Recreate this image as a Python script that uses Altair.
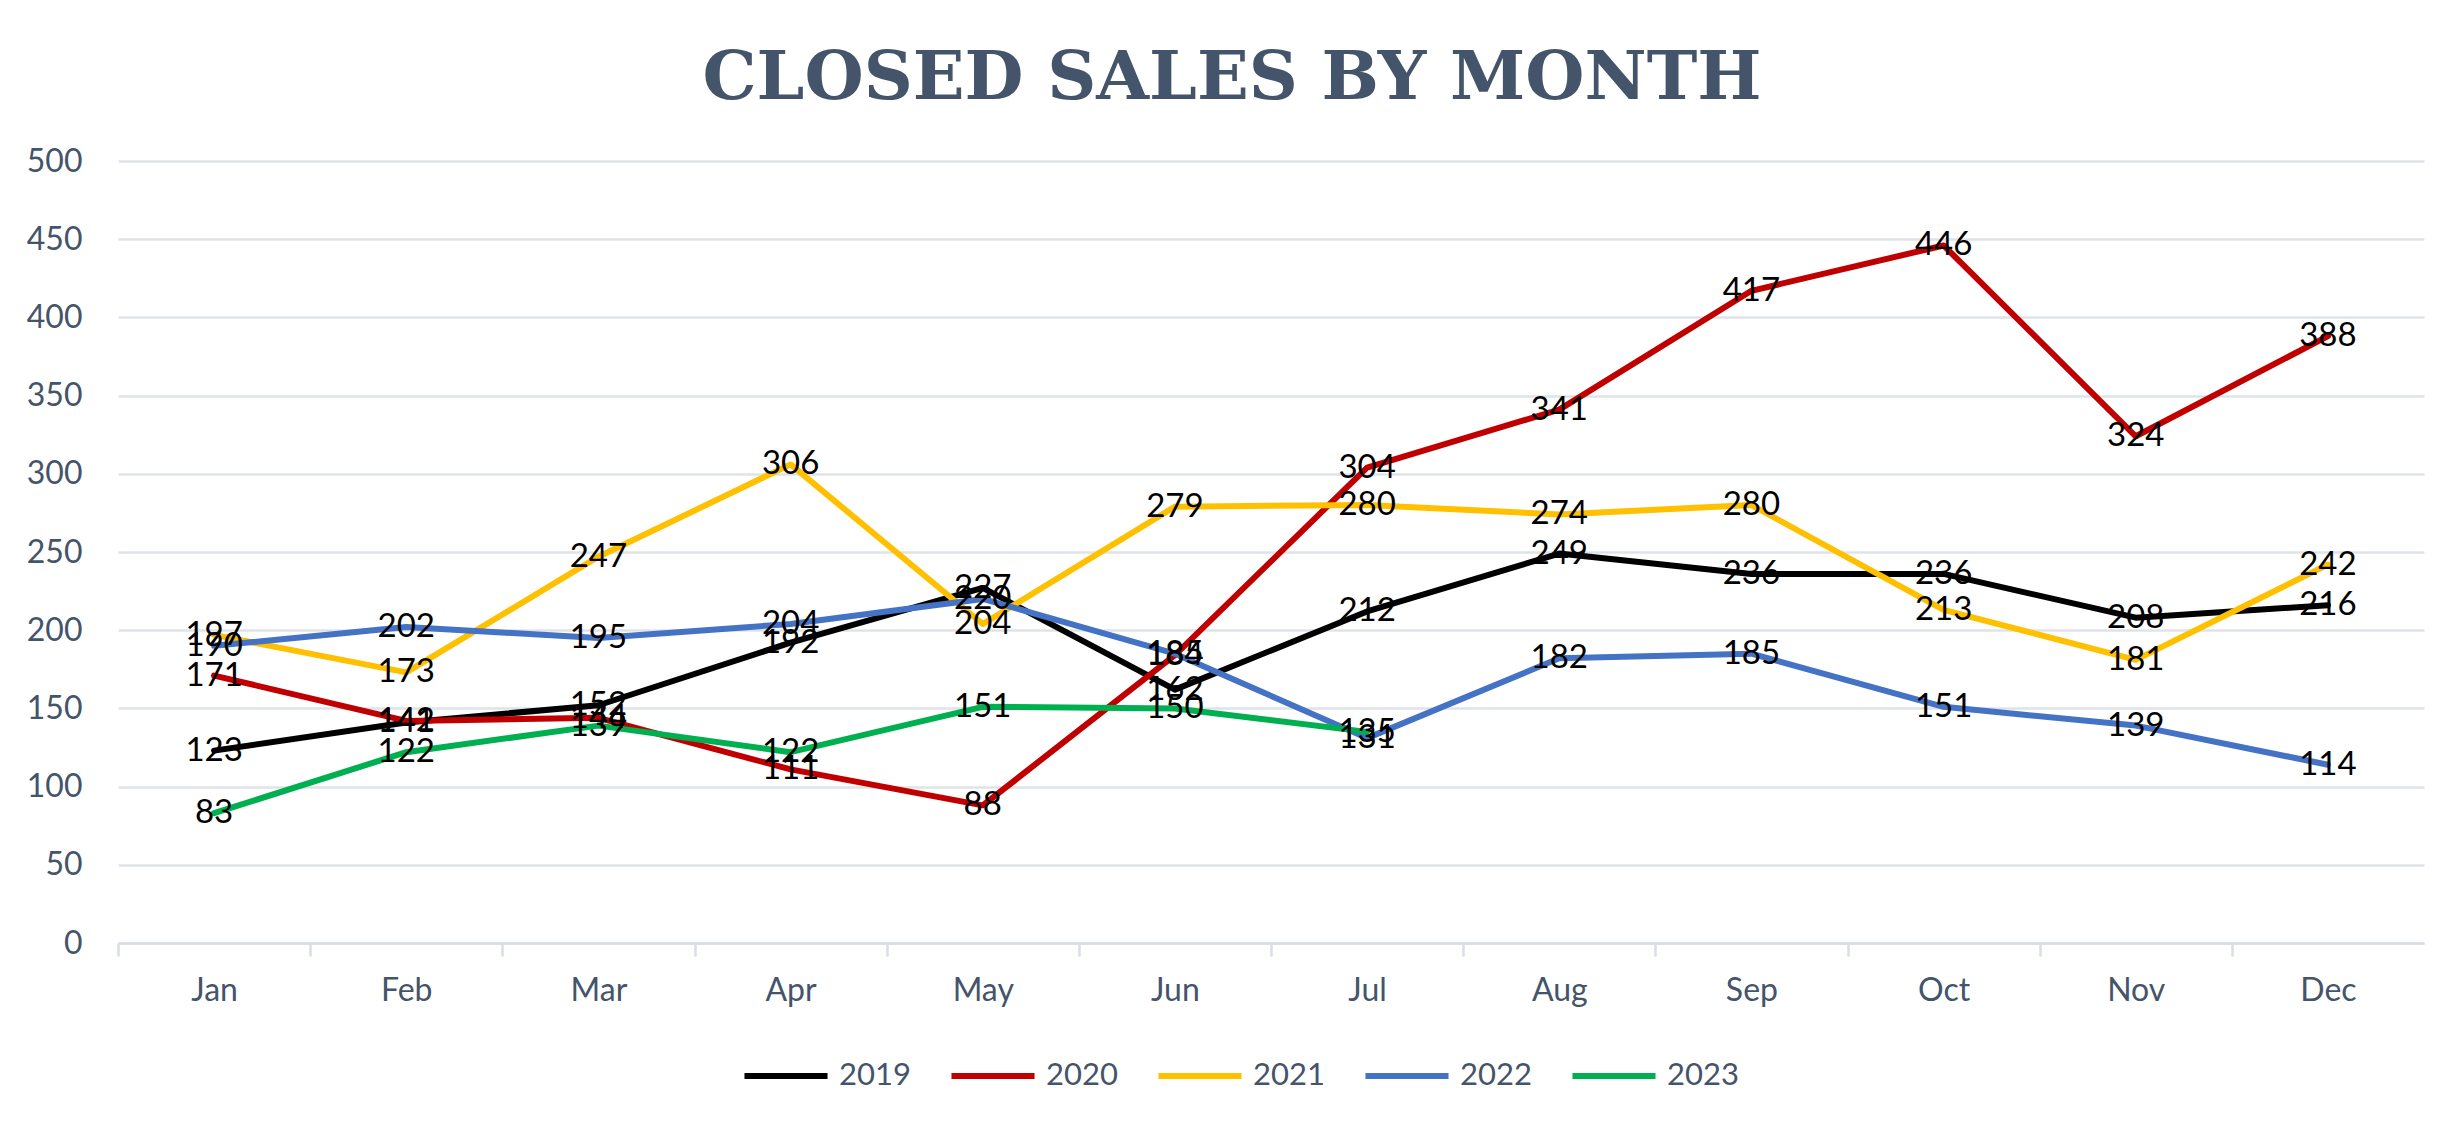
import altair as alt
import pandas as pd

months = ["Jan", "Feb", "Mar", "Apr", "May", "Jun", "Jul", "Aug", "Sep", "Oct", "Nov", "Dec"]
years = ["2019", "2020", "2021", "2022", "2023"]
colors = ["#000000", "#C00000", "#FFC000", "#4472C4", "#00B050"]

sales_2019 = [123, 141, 152, 192, 227, 162, 212, 249, 236, 236, 208, 216]
sales_2020 = [171, 142, 144, 111, 88, 184, 304, 341, 417, 446, 324, 388]
sales_2021 = [197, 173, 247, 306, 204, 279, 280, 274, 280, 213, 181, 242]
sales_2022 = [190, 202, 195, 204, 220, 185, 131, 182, 185, 151, 139, 114]
sales_2023 = [83, 122, 139, 122, 151, 150, 135]

series = [sales_2019, sales_2020, sales_2021, sales_2022, sales_2023]
rows = []
for yr, vals in zip(years, series):
    for m, v in zip(months, vals):
        rows.append({"Month": m, "Year": yr, "Sales": v})
df = pd.DataFrame(rows)

W, H = 2306, 782
step = W / 12

x_enc = alt.X(
    "Month:N",
    sort=months,
    title=None,
    scale=alt.Scale(type="point", padding=0.5),
    axis=alt.Axis(
        labelFont="Lato", labelFontSize=32, labelColor="#44546A",
        labelPadding=19, labelAngle=0,
        tickOffset=-step / 2, labelOffset=step / 2,
        tickColor="#D9DEE4", tickWidth=2.5, tickSize=13,
        domainColor="#D9DEE4", domainWidth=2.5, grid=False,
    ),
)
y_enc = alt.Y(
    "Sales:Q",
    title=None,
    scale=alt.Scale(domain=[0, 500], nice=False, zero=True),
    axis=alt.Axis(
        values=list(range(0, 501, 50)),
        labelFont="Lato", labelFontSize=32, labelColor="#44546A",
        labelPadding=36, ticks=False, domain=False,
        grid=True, gridColor="#DFE3E8", gridWidth=2.5,
    ),
)

lines = alt.Chart(df).mark_line(strokeWidth=6, strokeJoin="round", strokeCap="round").encode(
    x=x_enc,
    y=y_enc,
    color=alt.Color(
        "Year:N",
        scale=alt.Scale(domain=years, range=colors),
        legend=alt.Legend(
            title=None, orient="none", direction="horizontal",
            legendX=623, legendY=870,
            symbolType="stroke", symbolSize=6900, symbolStrokeWidth=6,
            labelFont="Lato", labelFontSize=31, labelColor="#44546A",
            labelOffset=8, columnPadding=28,
        ),
    ),
    detail="Year:N",
)

labels = alt.Chart(df).mark_text(
    font="Lato", fontSize=33, color="#000000", align="center", baseline="middle"
).encode(
    x=alt.X("Month:N", sort=months),
    y=alt.Y("Sales:Q"),
    text="Sales:Q",
)

chart = alt.layer(lines, labels).properties(
    width=W,
    height=H,
    autosize=alt.AutoSizeParams(type="none"),
    padding={"left": 110, "top": 153, "right": 26, "bottom": 182},
    title=alt.TitleParams(
        "CLOSED SALES BY MONTH",
        font="DejaVu Serif", fontSize=68, fontWeight="bold", color="#44546A",
        anchor="middle", frame="group", offset=32, dx=-39,
    ),
).configure_view(stroke=None)

chart.save("out.html", embed_options={"renderer": "svg", "actions": False})
